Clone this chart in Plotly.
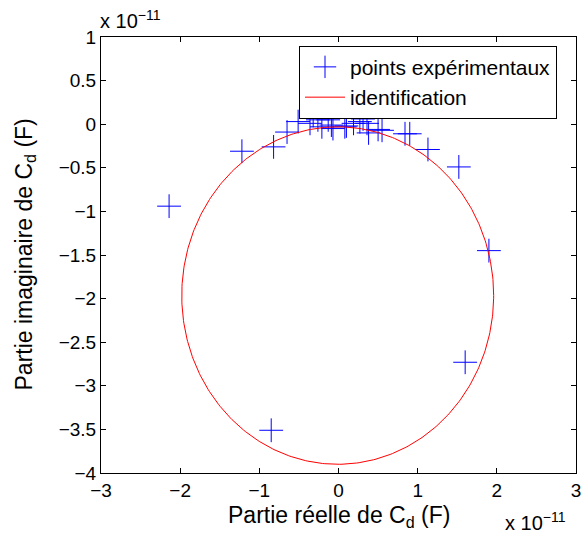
import numpy as np
import plotly.graph_objects as go

# Data in units of 1e-11 F
re_pts = [-2.14, -1.22, -0.82, -0.65, -0.51, -0.32, -0.36, -0.26, -0.21, -0.13,
          -0.09, -0.07, 0.08, 0.10, 0.19, 0.27, 0.31, 0.36, 0.38, 0.50,
          0.55, 0.84, 0.90, 1.13, 1.52, 1.90, 1.60, -0.85]
im_pts = [-0.94, -0.31, -0.26, -0.09, 0.03, 0.10, 0.01, 0.05, -0.03, 0.05,
          -0.01, -0.05, -0.03, -0.02, 0.01, 0.03, 0.06, 0.01, -0.10, -0.06,
          -0.07, -0.11, -0.11, -0.29, -0.49, -1.45, -2.73, -3.51]

# identified model (ellipse) parameters, units of 1e-11 F
ell_cx, ell_cy = -0.01, -1.965
ell_rx, ell_ry = 1.97, 1.935

x_ticks = [-3, -2, -1, 0, 1, 2, 3]
y_ticks = [1, 0.5, 0, -0.5, -1, -1.5, -2, -2.5, -3, -3.5, -4]

t = np.linspace(0, 2 * np.pi, 400)
ex = ell_cx + ell_rx * np.cos(t)
ey = ell_cy + ell_ry * np.sin(t)

FONT = "Liberation Sans, Arial, sans-serif"

fig = go.Figure()
fig.add_trace(go.Scatter(
    x=re_pts, y=im_pts, mode="markers", name="points expérimentaux",
    marker=dict(symbol="cross-thin-open", size=17, color="#0000ff",
                line=dict(width=1, color="#0000ff")),
))
fig.add_trace(go.Scatter(
    x=ex, y=ey, mode="lines", name="identification",
    line=dict(color="#ff0000", width=1),
))

axis_common = dict(
    showgrid=False, zeroline=False, showline=True, linecolor="black", linewidth=1,
    mirror="ticks", ticks="inside", ticklen=5, tickcolor="black", automargin=False,
    tickfont=dict(family=FONT, size=19, color="black"),
)

def fmt(v):
    return f"{v:g}".replace("-", "\u2212")

fig.update_layout(
    width=584, height=540,
    margin=dict(l=101, r=8, t=37, b=67),
    plot_bgcolor="white", paper_bgcolor="white",
    font=dict(family=FONT, size=19, color="black"),
    showlegend=True,
    legend=dict(x=0.96, y=0.98, xanchor="right", yanchor="top",
                bordercolor="black", borderwidth=1, bgcolor="white",
                font=dict(family=FONT, size=21), tracegroupgap=0,
                itemwidth=40),
    xaxis=dict(range=[-3, 3], tickvals=x_ticks, ticktext=[fmt(v) for v in x_ticks],
               **axis_common),
    yaxis=dict(range=[-4, 1], tickvals=y_ticks, ticktext=[fmt(v) for v in y_ticks],
               **axis_common),
    annotations=[
        dict(text="Partie réelle de C<sub>d</sub> (F)", xref="paper", yref="paper",
             x=0.5, y=0, xanchor="center", yanchor="top", yshift=-27, showarrow=False,
             font=dict(family=FONT, size=23)),
        dict(text="Partie imaginaire de C<sub>d</sub> (F)", xref="paper", yref="paper",
             x=0, y=0.5, xanchor="right", yanchor="middle", xshift=-60, textangle=-90,
             showarrow=False, font=dict(family=FONT, size=23)),
        dict(text="x 10<sup>\u221211</sup>", xref="paper", yref="paper", x=0, y=1,
             xanchor="left", yanchor="bottom", yshift=3, xshift=-3, showarrow=False,
             font=dict(family=FONT, size=20)),
        dict(text="x 10<sup>\u221211</sup>", xref="paper", yref="paper", x=1, y=0,
             xanchor="right", yanchor="top", yshift=-34, xshift=-8, showarrow=False,
             font=dict(family=FONT, size=20)),
    ],
)

fig.write_html("out.html", config={"displayModeBar": False},
               post_script="document.body.style.margin='0';")
